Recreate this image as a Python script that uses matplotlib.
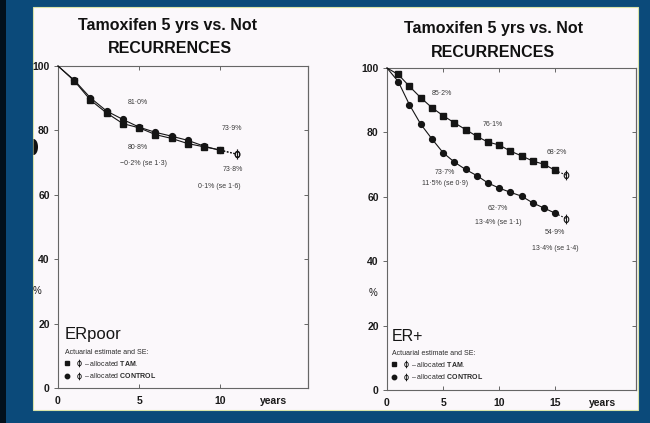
import matplotlib
matplotlib.use('Agg')
import matplotlib.pyplot as plt
from matplotlib.patches import Rectangle, Polygon
from matplotlib.lines import Line2D
from matplotlib.legend_handler import HandlerTuple
from matplotlib.path import Path
import numpy as np

plt.rcParams['font.family'] = ['Liberation Sans', 'DejaVu Sans']
plt.rcParams['mathtext.fontset'] = 'custom'
plt.rcParams['mathtext.bf'] = 'Liberation Sans:bold'
plt.rcParams['mathtext.rm'] = 'Liberation Sans'

# ---------------- data ----------------
title_line1 = 'Tamoxifen 5 yrs vs. Not'
title_line2 = 'RECURRENCES'
y_ticks = [0, 20, 40, 60, 80, 100]

erpoor_years = [1, 2, 3, 4, 5, 6, 7, 8, 9, 10]
erpoor_tam = [95.4, 89.4, 85.4, 82.1, 80.8, 78.7, 77.5, 75.9, 74.9, 73.9]
erpoor_ctrl = [95.6, 90.1, 86.0, 83.4, 81.0, 79.4, 78.2, 76.9, 75.1, 73.8]
erpoor_end_year = [11]
erpoor_end_tam = [72.7]
erpoor_end_ctrl = [72.6]
erpoor_xticks = [0, 5, 10]

erplus_years = [1, 2, 3, 4, 5, 6, 7, 8, 9, 10, 11, 12, 13, 14, 15]
erplus_tam = [98.0, 94.3, 90.8, 87.7, 85.2, 83.0, 80.9, 78.8, 77.0, 76.1,
              74.2, 72.7, 71.1, 70.1, 68.2]
erplus_ctrl = [95.8, 88.6, 82.6, 78.0, 73.7, 70.8, 68.5, 66.6, 64.3, 62.7,
               61.4, 60.2, 58.1, 56.5, 54.9]
erplus_end_year = [16]
erplus_end_tam = [66.7]
erplus_end_ctrl = [53.2]
erplus_xticks = [0, 5, 10, 15]

erpoor_notes = [('81·0%', 4.94, 88.8), ('80·8%', 4.94, 74.8),
                ('−0·2% (se 1·3)', 5.25, 69.6), ('73·9%', 10.74, 80.7),
                ('73·8%', 10.74, 68.0), ('0·1% (se 1·6)', 9.94, 62.7)]
erplus_notes = [('85·2%', 4.91, 92.2), ('76·1%', 9.46, 82.6),
                ('68·2%', 15.18, 73.9), ('73·7%', 5.18, 67.4),
                ('11·5% (se 0·9)', 5.18, 64.0), ('62·7%', 9.91, 56.5),
                ('13·4% (se 1·1)', 9.91, 51.9), ('54·9%', 15.0, 48.8),
                ('13·4% (se 1·4)', 15.0, 43.8)]

# ---------------- figure ----------------
W, H = 650, 423
fig = plt.figure(figsize=(6.5, 4.23), dpi=100)
fig.patch.set_facecolor('#0b4a7a')

def fx(px):
    return px / W

def fy(py):
    return 1 - py / H

# dark strip on the left, paper
fig.add_artist(Rectangle((0, 0), fx(6), 1, transform=fig.transFigure,
                         facecolor='#02101c', edgecolor='none', zorder=0))
paper = Rectangle((fx(33), fy(410)), fx(638 - 33), (410 - 7) / H,
                  transform=fig.transFigure, facecolor='#fbf8fb',
                  edgecolor='#d9e3a8', linewidth=0.8, zorder=0)
fig.add_artist(paper)
# binder-hole shadow on the paper edge (half ellipse)
th = np.linspace(-np.pi / 2, np.pi / 2, 40)
hole_pts = np.column_stack([fx(33.5 + 4.5 * np.cos(th)),
                            fy(147 + 8 * np.sin(th))])
fig.add_artist(Polygon(hole_pts, closed=True, transform=fig.transFigure,
                       facecolor='#111111', edgecolor='none', zorder=1))

# open symbol with SE bar
circ = Path.unit_circle()
circ = Path(circ.vertices * np.array([0.75, 1.0]), circ.codes)
bar = Path([(0, -1.6), (0, 1.6)], [Path.MOVETO, Path.LINETO])
phi_marker = Path.make_compound_path(circ, bar)

ink = '#151515'
note_col = '#3a3a3a'
spine_col = '#666666'


def make_panel(rect, xmax, xticks, years, tam, ctrl, end_year, end_tam,
               end_ctrl, notes, label, label_size, label_x, leg_anchor,
               years_x, pct_off):
    ax = fig.add_axes(rect)
    ax.set_facecolor('none')
    ax.set_xlim(0, xmax)
    ax.set_ylim(0, 100)
    for sp in ax.spines.values():
        sp.set_color(spine_col)
        sp.set_linewidth(0.8)
    ax.set_yticks(y_ticks)
    ax.set_xticks(xticks)
    ax.tick_params(axis='y', direction='out', length=3, width=0.7,
                   color=spine_col, labelsize=7.5, pad=3, labelcolor='#1a1a1a')
    ax.tick_params(axis='x', direction='in', length=3, width=0.7, top=True,
                   color=spine_col, labelsize=7.5, pad=6, labelcolor='#1a1a1a')
    for t in ax.get_xticklabels() + ax.get_yticklabels():
        t.set_fontweight('bold')
    sec = ax.secondary_yaxis('right')
    sec.set_yticks(y_ticks[1:-1])
    sec.tick_params(direction='in', length=3, width=0.7, color=spine_col,
                    labelright=False)
    sec.spines['right'].set_color(spine_col)
    sec.spines['right'].set_linewidth(0.8)

    for vals, end_vals, mk in ((tam, end_tam, 's'), (ctrl, end_ctrl, 'o')):
        ax.plot([0] + years, [100] + vals, color=ink, lw=0.8, marker=mk,
                markersize=4.2, markevery=slice(1, None), mfc=ink, mec=ink,
                zorder=3, clip_on=False)
        ax.plot([years[-1]] + end_year, [vals[-1]] + end_vals, color=ink,
                lw=0.8, ls=(0, (1.5, 1.5)), zorder=3)
        ax.plot(end_year, end_vals, ls='none', marker=phi_marker,
                markersize=7, mfc='none', mec=ink, mew=0.8, zorder=4)

    for s, x, y in notes:
        ax.text(x, y, s, ha='center', va='center', fontsize=5,
                color=note_col)

    ax.text(label_x, 0.165, label, transform=ax.transAxes,
            fontsize=label_size, color=ink, ha='left', va='center')

    h_tam = (Line2D([], [], ls='none', marker='s', markersize=3.2, color=ink),
             Line2D([], [], ls='none', marker=phi_marker, markersize=5.5,
                    mfc='none', mec=ink, mew=0.6))
    h_ctrl = (Line2D([], [], ls='none', marker='o', markersize=3.2, color=ink),
              Line2D([], [], ls='none', marker=phi_marker, markersize=5.5,
                     mfc='none', mec=ink, mew=0.6))
    leg = ax.legend([h_tam, h_ctrl],
                    ['– allocated $\\bf{TAM.}$',
                     '– allocated $\\bf{CONTROL}$'],
                    handler_map={tuple: HandlerTuple(ndivide=None, pad=1.2)},
                    title='Actuarial estimate and SE:', title_fontsize=5,
                    fontsize=5, loc='lower left', bbox_to_anchor=leg_anchor,
                    frameon=False, handlelength=2.2, handletextpad=0.6,
                    labelspacing=0.45, alignment='left', borderaxespad=0,
                    borderpad=0)
    for t in leg.get_texts():
        t.set_color('#2a2a2a')
    leg.get_title().set_color('#2a2a2a')

    ax.annotate('years', xy=(years_x, 0), xycoords=('data', 'axes fraction'),
                xytext=(0, -6), textcoords='offset points', ha='center',
                va='top', fontsize=7.5, fontweight='bold', color='#1a1a1a')
    ax.annotate('%', xy=(0, 30), xycoords=('axes fraction', 'data'),
                xytext=(pct_off, 0), textcoords='offset points', ha='center',
                va='center', fontsize=7, color='#1a1a1a')
    return ax


make_panel([fx(58), fy(388), fx(308 - 58), 322 / H], 15.4, erpoor_xticks,
           erpoor_years, erpoor_tam, erpoor_ctrl, erpoor_end_year,
           erpoor_end_tam, erpoor_end_ctrl, erpoor_notes, 'ERpoor', 12, 0.028,
           (0.028, 0.025), 13.3, -15)
make_panel([fx(387), fy(390), fx(636 - 387), 322 / H], 22.2, erplus_xticks,
           erplus_years, erplus_tam, erplus_ctrl, erplus_end_year,
           erplus_end_tam, erplus_end_ctrl, erplus_notes, 'ER+', 11.5, 0.02,
           (0.02, 0.028), 19.2, -10)

# titles
fig.text(fx(167), fy(30), title_line1, ha='center', va='baseline',
         fontsize=11.5, fontweight='bold', color='#111111')
fig.text(fx(170), fy(53), title_line2, ha='center', va='baseline',
         fontsize=11.5, fontweight='bold', color='#111111')
fig.text(fx(494), fy(33), title_line1, ha='center', va='baseline',
         fontsize=11.5, fontweight='bold', color='#111111')
fig.text(fx(493), fy(57), title_line2, ha='center', va='baseline',
         fontsize=11.5, fontweight='bold', color='#111111')

fig.savefig('out.png', dpi=100, facecolor=fig.get_facecolor())
